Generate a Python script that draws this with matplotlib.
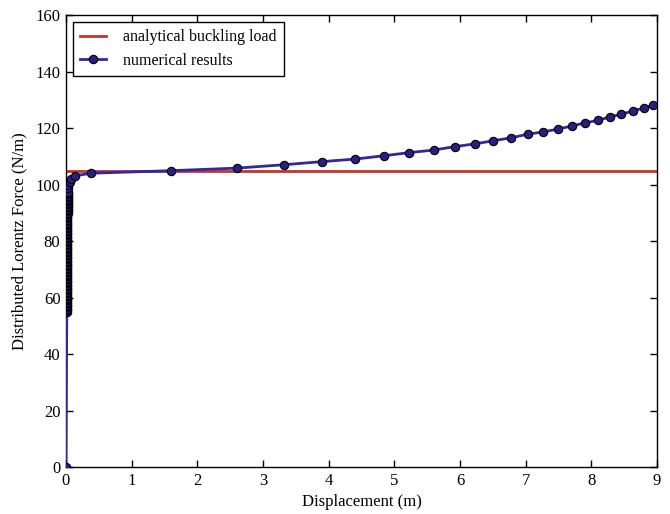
import matplotlib
matplotlib.use("Agg")
import matplotlib.pyplot as plt

plt.rcParams['font.family'] = ['Liberation Serif', 'DejaVu Serif']
plt.rcParams['mathtext.fontset'] = 'stix'

# Analytical critical load (N/m)
buckling_load = 104.8

# Numerical load-displacement path: displacement (m), load (N/m)
disp = [
    0.0,
    0.012, 0.012, 0.012, 0.012, 0.012, 0.012, 0.012, 0.013, 0.013, 0.013,
    0.013, 0.013, 0.013, 0.013, 0.013, 0.014, 0.014, 0.014, 0.014, 0.014,
    0.014, 0.014, 0.015, 0.015, 0.015, 0.015, 0.015, 0.015, 0.015, 0.015,
    0.016, 0.016, 0.016, 0.016, 0.016, 0.016, 0.016, 0.017, 0.017, 0.017,
    0.017, 0.017, 0.017, 0.017, 0.018, 0.018, 0.018, 0.018, 0.018, 0.018,
    0.019, 0.019, 0.019, 0.019, 0.019, 0.019, 0.020, 0.020, 0.020, 0.020,
    0.020, 0.021, 0.021, 0.021, 0.021, 0.021, 0.022, 0.022, 0.022, 0.022,
    0.023, 0.023, 0.023, 0.023, 0.024, 0.024, 0.024, 0.024, 0.025, 0.025,
    0.025, 0.026, 0.026, 0.026, 0.027, 0.027,
    0.028, 0.035, 0.056, 0.080, 0.140, 0.385,
    1.60, 2.60, 3.32, 3.90, 4.40, 4.85, 5.23, 5.60, 5.92, 6.23,
    6.51, 6.77, 7.03, 7.26, 7.49, 7.70, 7.90, 8.10, 8.28, 8.46,
    8.63, 8.80, 8.94, 9.08,
]
load = [
    0.0,
    55.0, 55.5, 56.0, 56.5, 57.0, 57.5, 58.0, 58.5, 59.0, 59.5,
    60.0, 60.5, 61.0, 61.5, 62.0, 62.5, 63.0, 63.5, 64.0, 64.5,
    65.0, 65.5, 66.0, 66.5, 67.0, 67.5, 68.0, 68.5, 69.0, 69.5,
    70.0, 70.5, 71.0, 71.5, 72.0, 72.5, 73.0, 73.5, 74.0, 74.5,
    75.0, 75.5, 76.0, 76.5, 77.0, 77.5, 78.0, 78.5, 79.0, 79.5,
    80.0, 80.5, 81.0, 81.5, 82.0, 82.5, 83.0, 83.5, 84.0, 84.5,
    85.0, 85.5, 86.0, 86.5, 87.0, 87.5, 88.0, 88.5, 89.0, 89.5,
    90.0, 90.5, 91.0, 91.5, 92.0, 92.5, 93.0, 93.5, 94.0, 94.5,
    95.0, 95.5, 96.0, 96.5, 97.0, 97.5,
    98.7, 99.8, 101.0, 101.9, 103.1, 104.0,
    104.9, 105.8, 107.0, 108.1, 109.0, 110.2, 111.3, 112.2, 113.4, 114.4,
    115.5, 116.5, 117.8, 118.6, 119.6, 120.7, 121.8, 122.7, 123.9, 124.9,
    126.0, 127.1, 128.1, 129.2,
]

fig = plt.figure(figsize=(6.7, 5.14), dpi=100)
ax = fig.add_axes([0.0985, 0.0914, 0.882, 0.8794])

ax.axhline(buckling_load, color='#c0362c', lw=2, label='analytical buckling load', zorder=2)
ax.plot(disp, load, color='#3326a0', lw=2, marker='o', markersize=6,
        markerfacecolor='#2a1f80', markeredgecolor='black', markeredgewidth=0.8,
        label='numerical results', zorder=3)

ax.set_xlim(0, 9)
ax.set_ylim(0, 160)
ax.set_xticks(range(0, 10))
ax.set_yticks(range(0, 161, 20))
ax.tick_params(direction='in', top=True, right=True, length=5, width=1,
               labelsize=12, pad=4)
for s in ax.spines.values():
    s.set_linewidth(1)

ax.set_xlabel('Displacement (m)', fontsize=12)
ax.set_ylabel('Distributed Lorentz Force (N/m)', fontsize=12, labelpad=6)

leg = ax.legend(loc='upper left', fontsize=11.5, fancybox=False, frameon=True,
                edgecolor='black', framealpha=1, borderpad=0.45,
                handlelength=1.6, handletextpad=1.1, labelspacing=0.45,
                borderaxespad=0.45)
leg.get_frame().set_linewidth(1)

fig.savefig('out.png', dpi=100)
